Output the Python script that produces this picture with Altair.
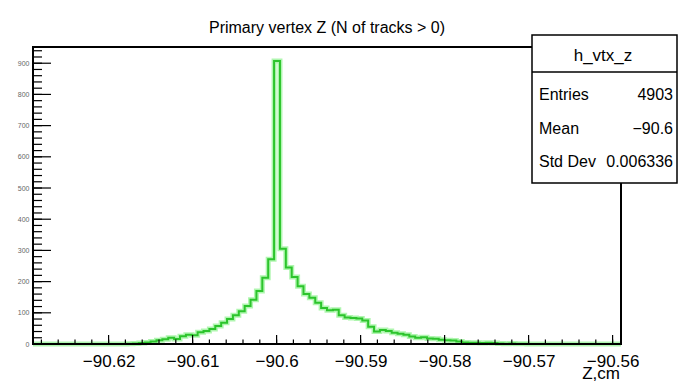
import altair as alt
import pandas as pd

# Histogram definition: 100 bins of 0.0007 cm starting at -90.629 cm
z_low = -90.629
bin_width = 0.0007
counts = [0] * 16 + [
    1, 2, 3, 5, 8, 12, 15, 20, 16, 25,
    30, 28, 38, 42, 48, 58, 68, 80, 92, 105,
    122, 142, 170, 212, 272, 907, 305, 245, 215, 185,
    160, 148, 132, 115, 108, 110, 92, 85, 83, 82,
    75, 55, 40, 45, 42, 36, 33, 30, 24, 20,
    22, 18, 17, 14, 12, 11, 8, 5, 4, 4,
    3, 4, 3, 2, 1, 2, 1, 1,
] + [0] * 16

x_major = [-90.62, -90.61, -90.60, -90.59, -90.58, -90.57, -90.56]
x_minor = [round(-90.628 + 0.002 * i, 4) for i in range(35)]
y_major = [0, 100, 200, 300, 400, 500, 600, 700, 800, 900]
y_minor = list(range(0, 941, 20))

title_text = "Primary vertex Z (N of tracks > 0)"
x_title = "Z,cm"
stats_name = "h_vtx_z"
stat_labels = ["Entries", "Mean", "Std Dev"]
stat_values = ["4903", "\u221290.6", "0.006336"]

W, H = 588, 297
FONT = "Liberation Sans"
GREEN_CORE = "#2cc42c"
GREEN_HALO = "#5fee5f"

edges = [round(z_low + bin_width * k, 5) for k in range(len(counts) + 1)]
hist = pd.DataFrame({"z": edges, "n": counts + [counts[-1]]})

xs = alt.Scale(domain=[-90.629, -90.559], nice=False, zero=False)
ys = alt.Scale(domain=[0, 952], nice=False, zero=False)

x_axis = alt.Axis(values=x_major, format=".2~f", labelFont=FONT, labelFontSize=17,
                  labelColor="black", labelPadding=9, labelFlush=False,
                  labelOverlap=False, ticks=False, domain=False, grid=False, title="")
y_axis = alt.Axis(values=y_major, labelFont=FONT, labelFontSize=7, labelColor="#666666",
                  labelPadding=4, labelOverlap=False, ticks=False, domain=False,
                  grid=False, title="")

X = alt.X("z:Q", scale=xs, axis=x_axis)
Y = alt.Y("n:Q", scale=ys, axis=y_axis)

halo = alt.Chart(hist).mark_line(interpolate="step-after", color=GREEN_HALO,
                                 strokeWidth=5, opacity=0.5).encode(x=X, y=Y)
core = alt.Chart(hist).mark_line(interpolate="step-after", color=GREEN_CORE,
                                 strokeWidth=2).encode(x=X, y=Y)

frame = alt.Chart(pd.DataFrame({"k": [0]})).mark_rect(
    filled=False, stroke="black", strokeWidth=2
).encode(x=alt.value(0), x2=alt.value(W), y=alt.value(0), y2=alt.value(H))

def yticks(vals, length):
    return alt.Chart(pd.DataFrame({"n": vals})).mark_rule(color="black", strokeWidth=1.2).encode(
        y=Y, x=alt.value(0), x2=alt.value(length))

def xticks(vals, length):
    return alt.Chart(pd.DataFrame({"z": vals})).mark_rule(color="black", strokeWidth=1.2).encode(
        x=X, y=alt.value(H), y2=alt.value(H - length))

title = alt.Chart(pd.DataFrame({"t": [title_text]})).mark_text(
    font=FONT, fontSize=16, align="center", baseline="alphabetic", color="black"
).encode(text="t:N", x=alt.value(294), y=alt.value(-14))

xlab = alt.Chart(pd.DataFrame({"t": [x_title]})).mark_text(
    font=FONT, fontSize=17, align="right", baseline="alphabetic", color="black"
).encode(text="t:N", x=alt.value(587), y=alt.value(332))

# statistics box
box = alt.Chart(pd.DataFrame({"k": [0]})).mark_rect(
    fill="white", stroke="black", strokeWidth=1.5
).encode(x=alt.value(499), x2=alt.value(644), y=alt.value(-12), y2=alt.value(136))
sep = alt.Chart(pd.DataFrame({"k": [0]})).mark_rule(color="black", strokeWidth=1.5).encode(
    x=alt.value(499), x2=alt.value(644), y=alt.value(25))
box_title = alt.Chart(pd.DataFrame({"t": [stats_name]})).mark_text(
    font=FONT, fontSize=17, align="center", baseline="alphabetic", color="black"
).encode(text="t:N", x=alt.value(570), y=alt.value(14))

stat_layers = []
for i, (lab, val) in enumerate(zip(stat_labels, stat_values)):
    yy = 53 + i * 33.5
    stat_layers.append(alt.Chart(pd.DataFrame({"t": [lab]})).mark_text(
        font=FONT, fontSize=16, align="left", baseline="alphabetic", color="black"
    ).encode(text="t:N", x=alt.value(506), y=alt.value(yy)))
    stat_layers.append(alt.Chart(pd.DataFrame({"t": [val]})).mark_text(
        font=FONT, fontSize=16, align="right", baseline="alphabetic", color="black"
    ).encode(text="t:N", x=alt.value(640), y=alt.value(yy)))

chart = alt.layer(
    halo, core, frame,
    yticks(y_minor, 9), yticks(y_major, 18),
    xticks(x_minor, 4.5), xticks(x_major, 9),
    title, xlab, box, sep, box_title, *stat_layers
).properties(
    width=W, height=H,
    padding={"left": 33, "top": 47, "right": 58, "bottom": 38},
    autosize=alt.AutoSizeParams(type="none"),
    background="white",
).configure_view(stroke="transparent")

chart.save("out.html", embed_options={"renderer": "svg", "actions": False})
